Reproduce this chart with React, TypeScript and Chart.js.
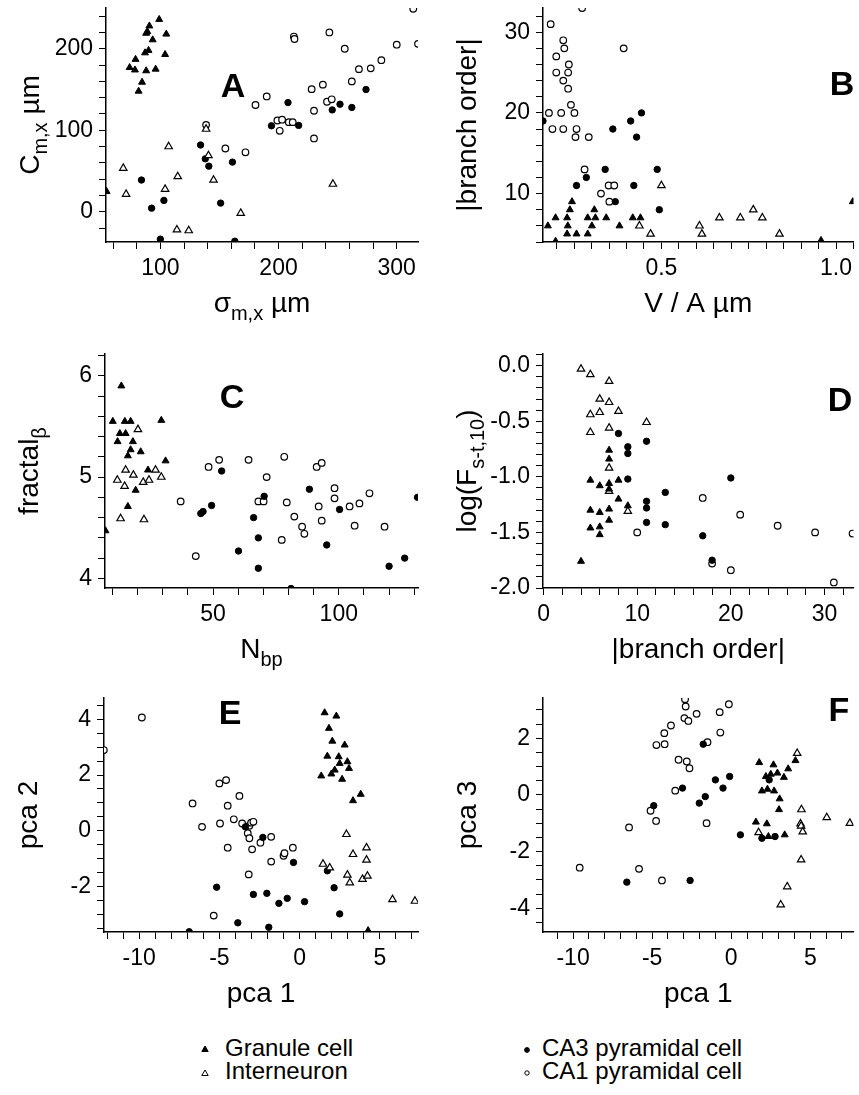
import React, { useEffect, useRef } from "react";
import { Chart, registerables } from "chart.js";

Chart.register(...registerables);

const FONT = '"Liberation Sans", Arial, Helvetica, sans-serif';

type Pt = [number, number];

// ---------- Panel A: sigma_m,x (x) vs C_m,x (y) ----------
const aGranule: Pt[] = [[99,236],[90.7,228],[88,219],[89,221],[105,218],[93.5,211],[90,198],[87,195],[104,193],[79,187],[74,177],[78.5,174],[88,173],[96,175],[84.5,159],[81.6,148],[54.5,25]];
const aInter: Pt[] = [[68.6,53.6],[71,21.7],[107,80],[114.7,43.3],[104,27.8],[114,-22],[124,-23],[138.7,101.5],[140.7,69],[145,39],[168,-1.6],[246,34]];
const aCA3: Pt[] = [[84,39],[92.6,4.5],[103,14],[100,-33.5],[134,82],[138,65],[141,56],[151,10.7],[161,61],[163,-36],[194,105.5],[208,134],[217,106],[245.4,125],[252,132],[262,128],[274,150]];
const aCA1: Pt[] = [[138.7,106.7],[155,77.7],[172,73],[180.5,131],[190,141.5],[199,112],[201,99.4],[203,113],[208.7,110],[212,110],[213,215],[213.5,212],[228,150.5],[230,124],[230,90],[237.5,156],[241,135],[245,138],[243,220],[256,200],[262,160],[268,175],[278,176],[287,186],[300,205],[314,249],[318,206]];

// ---------- Panel B: V/A (x) vs |branch order| (y) ----------
const bGranule: Pt[] = [[0.175,6],[0.197,7],[0.197,4.1],[0.23,7],[0.232,6],[0.23,5],[0.244,9],[0.238,8],[0.257,5],[0.289,7],[0.289,5],[0.301,6],[0.308,8],[0.311,7],[0.342,7],[0.38,6],[0.418,7],[0.44,7],[0.957,4.2],[1.048,9]];
const bInter: Pt[] = [[0.5,11],[0.437,6],[0.469,5],[0.609,6],[0.616,5],[0.666,7],[0.726,7],[0.763,8],[0.789,7],[0.838,5]];
const bCA3: Pt[] = [[0.161,19],[0.257,11],[0.285,12],[0.339,13],[0.361,18],[0.368,9],[0.412,19],[0.443,20],[0.429,17],[0.421,11],[0.488,13],[0.494,8]];
const bCA1: Pt[] = [[0.183,31],[0.273,33],[0.199,27],[0.219,29],[0.222,28],[0.199,25],[0.233,25],[0.235,26],[0.219,24],[0.233,23],[0.241,21],[0.178,20],[0.213,20],[0.251,20],[0.188,18],[0.219,18],[0.257,18],[0.254,17],[0.292,17],[0.392,28],[0.28,13],[0.327,10],[0.349,11],[0.365,11],[0.351,9]];

// ---------- Panel C: N_bp (x) vs fractal_beta (y) ----------
const cGranule: Pt[] = [[13.5,5.9],[10.1,5.55],[14.9,5.55],[17.2,5.55],[29.4,5.56],[12.9,5.43],[15.2,5.43],[12,5.35],[18.1,5.35],[17.2,5.27],[21.2,5.25],[16.1,5.21],[31.1,5.16],[24.1,5.07],[19.2,4.87],[16.1,4.71],[7.2,4.47]];
const cInter: Pt[] = [[20.1,5.47],[15.2,5.07],[11.9,4.97],[18.3,5.02],[14.8,4.91],[22.2,4.95],[24.5,4.97],[27.1,5.07],[29.4,5.0],[13.2,4.59],[22.5,4.58]];
const cCA3: Pt[] = [[46,4.66],[45.1,4.64],[49.4,4.72],[53.4,5.06],[60.1,4.27],[66.1,4.6],[68,4.4],[68,4.1],[70.3,4.81],[81,3.9],[88.3,4.88],[95.2,4.33],[100.3,4.68],[120,4.12],[126.2,4.2],[131.3,4.8]];
const cCA1: Pt[] = [[37.1,4.76],[43.1,4.22],[48.2,5.1],[52.4,5.17],[64.1,5.17],[68,4.76],[70.1,4.76],[71.3,5.0],[78.3,5.2],[79.3,4.75],[77.3,4.38],[82.3,4.61],[85.4,4.51],[86.3,4.44],[91.2,5.1],[93.2,5.14],[92,4.71],[93.2,4.57],[98.3,4.89],[98.3,4.79],[104.3,4.71],[106.3,4.52],[108.2,4.74],[112.2,4.84],[118.2,4.51]];

// ---------- Panel D: |branch order| (x) vs log(F) (y) ----------
const dGranule: Pt[] = [[7,-0.76],[7,-0.84],[5,-1.03],[6,-1.08],[7,-1.06],[8,-1.03],[7,-1.11],[8,-1.2],[9,-1.26],[5,-1.3],[6,-1.32],[7,-1.29],[7,-1.39],[5,-1.46],[6,-1.45],[6,-1.52],[4,-1.76]];
const dInter: Pt[] = [[4,-0.03],[5,-0.08],[7,-0.14],[6,-0.3],[7,-0.33],[5,-0.44],[6,-0.42],[8,-0.41],[5,-0.6],[7,-0.56],[11,-0.51],[7,-0.92],[7,-1.13],[9,-1.31]];
const dCA3: Pt[] = [[8,-0.61],[9,-0.73],[9,-0.79],[11,-0.68],[9,-1.02],[11,-1.22],[11,-1.28],[11,-1.41],[13,-1.14],[13,-1.43],[20,-1.01],[17,-1.53],[18,-1.75]];
const dCA1: Pt[] = [[10,-1.5],[17,-1.19],[18,-1.78],[20,-1.84],[21,-1.34],[25,-1.44],[29,-1.5],[31,-1.95],[33,-1.51]];

// ---------- Panel E: pca 1 (x) vs pca 2 (y) ----------
const eGranule: Pt[] = [[1.56,4.24],[2.29,4.12],[1.83,3.68],[2.04,3.22],[2.81,3.08],[1.73,2.68],[2.44,2.66],[2.98,2.48],[2.5,2.42],[3.08,2.24],[1.98,2.04],[2.19,2.18],[1.35,1.97],[2.65,1.85],[3.33,1.08],[3.81,1.31],[4.27,-3.59]];
const eInter: Pt[] = [[2.92,-0.13],[4.17,-0.61],[3.33,-0.85],[4.17,-1.05],[1.46,-1.2],[1.88,-1.33],[2.98,-1.59],[3.13,-1.87],[3.92,-1.74],[4.23,-1.63],[5.79,-2.47],[7.19,-2.53]];
const eCA3: Pt[] = [[-3.38,0.14],[-2.29,-0.24],[-0.38,-1.14],[-5.17,-2.03],[-2.88,-2.29],[-2.04,-2.25],[-1.29,-2.61],[-0.77,-2.43],[0.31,-2.55],[-3.85,-3.31],[-1.92,-3.47],[-6.88,-3.63],[1.73,-1.44],[2.15,-2.05],[2.5,-2.99]];
const eCA1: Pt[] = [[-9.83,4.07],[-12.2,2.9],[-5,1.7],[-4.58,1.82],[-3.75,1.25],[-6.67,0.98],[-4.48,0.9],[-6.08,0.14],[-4.96,0.26],[-4.1,0.41],[-3.58,0.26],[-3.13,0.18],[-3.02,0.29],[-2.88,0.32],[-3.23,-0.09],[-3.13,-0.27],[-4.48,-0.61],[-2.96,-0.67],[-1.77,-0.22],[-2.44,-0.43],[-1.77,-1.11],[-1,-0.9],[-0.94,-0.81],[-0.42,-0.61],[-3.17,-1.57],[-5.35,-3.05]];

// ---------- Panel F: pca 1 (x) vs pca 3 (y) ----------
const fGranule: Pt[] = [[1.77,1.14],[2.67,1.06],[2.19,0.65],[2.5,0.73],[2.92,0.77],[3.33,0.62],[3.6,0.92],[4.06,1.21],[1.94,0.14],[2.29,0.2],[2.71,0.14],[3.06,-0.14],[3.02,-0.52],[1.56,-0.96],[2.25,-1.02],[2.35,-1.47],[3.38,-1.41]];
const fInter: Pt[] = [[4.17,1.47],[4.44,-0.52],[6.04,-0.8],[4.38,-1.02],[4.42,-1.1],[4.52,-1.3],[1.73,-1.33],[4.42,-2.29],[3.54,-3.24],[3.13,-3.88],[7.5,-1.0]];
const fCA3: Pt[] = [[-1.77,1.79],[-3.08,0.24],[-4.9,-0.38],[-2.02,-0.29],[-1.64,-0.06],[-1,0.53],[-0.52,0.24],[-0.1,0.65],[0.58,-1.41],[-6.6,-3.08],[-2.6,-3.02],[2.4,0.53],[1.94,-1.53],[2.77,-1.47]];
const fCA1: Pt[] = [[-2.92,3.38],[-2.88,3.12],[-2.96,2.71],[-2.71,2.61],[-2.19,2.86],[-0.73,2.92],[-0.15,3.2],[-0.69,2.2],[-3.81,2.45],[-4.23,2.18],[-4.73,1.76],[-4.21,1.79],[-1.5,1.86],[-3.33,1.24],[-2.81,1.18],[-2.64,0.94],[-3.54,0.15],[-5.1,-0.56],[-4.75,-0.92],[-6.46,-1.15],[-1.56,-1.0],[-9.58,-2.57],[-5.83,-2.61],[-4.38,-3.02]];

// ---------- Legend ----------
const legendLabels = ["Granule cell", "Interneuron", "CA3 pyramidal cell", "CA1 pyramidal cell"];

type Part = { t: string; sub?: boolean };

const fmtInt = (v: number) => String(Math.round(v));
const fmt1 = (v: number) => {
  const s = v.toFixed(1);
  return s === "-0.0" ? "0.0" : s;
};

interface Panel {
  letter: string;
  canvas: { x: number; y: number; w: number; h: number };
  plot: { l: number; t: number; r: number; b: number };
  x: [number, number, number, number]; // min, max, step, major
  y: [number, number, number, number];
  xFmt: (v: number) => string;
  yFmt: (v: number) => string;
  xTitle: Part[];
  yTitle: Part[];
  letterPos: [number, number];
  series: Pt[][];
}

const PANELS: Panel[] = [
  {
    letter: "A", canvas: { x: 0, y: 0, w: 430, h: 330 }, plot: { l: 106, t: 8, r: 418, b: 242 },
    x: [54, 318, 20, 100], y: [-37, 250, 20, 100], xFmt: fmtInt, yFmt: fmtInt,
    xTitle: [{ t: "σ" }, { t: "m,x", sub: true }, { t: " µm" }],
    yTitle: [{ t: "C" }, { t: "m,x", sub: true }, { t: " µm" }],
    letterPos: [233, 88], series: [aGranule, aInter, aCA3, aCA1],
  },
  {
    letter: "B", canvas: { x: 430, y: 0, w: 429, h: 330 }, plot: { l: 543, t: 8, r: 857, b: 242 },
    x: [0.161, 1.05, 0.05, 0.5], y: [4, 33, 2, 10], xFmt: fmt1, yFmt: fmtInt,
    xTitle: [{ t: "V / A µm" }], yTitle: [{ t: "|branch order|" }],
    letterPos: [842, 86], series: [bGranule, bInter, bCA3, bCA1],
  },
  {
    letter: "C", canvas: { x: 0, y: 330, w: 430, h: 350 }, plot: { l: 105, t: 354, r: 418, b: 588 },
    x: [7, 131.5, 10, 50], y: [3.905, 6.215, 0.2, 1], xFmt: fmtInt, yFmt: fmtInt,
    xTitle: [{ t: "N" }, { t: "bp", sub: true }],
    yTitle: [{ t: "fractal" }, { t: "β", sub: true }],
    letterPos: [232, 399], series: [cGranule, cInter, cCA3, cCA1],
  },
  {
    letter: "D", canvas: { x: 430, y: 330, w: 429, h: 350 }, plot: { l: 543, t: 354, r: 857, b: 588 },
    x: [-0.06, 33.1, 2, 10], y: [-2, 0.105, 0.1, 0.5], xFmt: fmtInt, yFmt: fmt1,
    xTitle: [{ t: "|branch order|" }],
    yTitle: [{ t: "log(F" }, { t: "s-t,10", sub: true }, { t: ")" }],
    letterPos: [840, 402], series: [dGranule, dInter, dCA3, dCA1],
  },
  {
    letter: "E", canvas: { x: 0, y: 680, w: 430, h: 350 }, plot: { l: 104, t: 698, r: 418, b: 932 },
    x: [-12.19, 7.38, 1, 5], y: [-3.64, 4.77, 0.5, 2], xFmt: fmtInt, yFmt: fmtInt,
    xTitle: [{ t: "pca 1" }], yTitle: [{ t: "pca 2" }],
    letterPos: [230, 715], series: [eGranule, eInter, eCA3, eCA1],
  },
  {
    letter: "F", canvas: { x: 430, y: 680, w: 429, h: 350 }, plot: { l: 543, t: 698, r: 857, b: 932 },
    x: [-11.9, 7.73, 1, 5], y: [-4.84, 3.42, 0.5, 2], xFmt: fmtInt, yFmt: fmtInt,
    xTitle: [{ t: "pca 1" }], yTitle: [{ t: "pca 3" }],
    letterPos: [839, 712], series: [fGranule, fInter, fCA3, fCA1],
  },
];

const isMajor = (v: number, major: number) => Math.abs(v / major - Math.round(v / major)) < 1e-6;

function drawRich(ctx: CanvasRenderingContext2D, parts: Part[], x: number, y: number, size: number, rotate: boolean) {
  const fontFor = (p: Part) => `${p.sub ? Math.round(size * 0.72) : size}px ${FONT}`;
  const widths = parts.map((p) => {
    ctx.font = fontFor(p);
    return ctx.measureText(p.t).width;
  });
  const total = widths.reduce((a, b) => a + b, 0);
  ctx.save();
  ctx.translate(x, y);
  if (rotate) ctx.rotate(-Math.PI / 2);
  ctx.fillStyle = "#000";
  ctx.textAlign = "left";
  ctx.textBaseline = "alphabetic";
  let cx = -total / 2;
  parts.forEach((p, i) => {
    ctx.font = fontFor(p);
    ctx.fillText(p.t, cx, p.sub ? size * 0.28 : 0);
    cx += widths[i];
  });
  ctx.restore();
}

function makeScale(axis: "x" | "y", spec: [number, number, number, number], fmt: (v: number) => string, size: number) {
  const [min, max, step, major] = spec;
  return {
    type: "linear",
    position: axis === "x" ? "bottom" : "left",
    min,
    max,
    afterFit: (s: any) => {
      if (axis === "x") s.height = size;
      else s.width = size;
      s.paddingLeft = 0;
      s.paddingRight = 0;
      s.paddingTop = 0;
      s.paddingBottom = 0;
    },
    ticks: {
      stepSize: step,
      autoSkip: false,
      maxRotation: 0,
      minRotation: 0,
      includeBounds: false,
      padding: 6,
      color: "#000",
      font: { family: FONT, size: 23 },
      callback: (v: any) => (isMajor(Number(v), major) ? fmt(Number(v)) : ""),
    },
    grid: { drawOnChartArea: false, drawTicks: true, tickLength: 7, color: "#000", lineWidth: 1 },
    border: { display: true, color: "#000", width: 1.5 },
    title: { display: false },
  };
}

function buildConfig(p: Panel): any {
  const styles = [
    { pointStyle: "triangle", pointRadius: 4, backgroundColor: "#000", borderColor: "#000", borderWidth: 1 },
    { pointStyle: "triangle", pointRadius: 4.3, backgroundColor: "#fff", borderColor: "#000", borderWidth: 1.2 },
    { pointStyle: "circle", pointRadius: 3.2, backgroundColor: "#000", borderColor: "#000", borderWidth: 1 },
    { pointStyle: "circle", pointRadius: 3.3, backgroundColor: "#fff", borderColor: "#000", borderWidth: 1.2 },
  ];
  const datasets = p.series.map((pts, i) => ({
    label: legendLabels[i],
    data: pts.map(([x, y]) => ({ x, y })),
    showLine: false,
    clip: 0,
    pointHoverRadius: styles[i].pointRadius,
    ...styles[i],
  }));
  const c = p.canvas;
  const decor = {
    id: "decor" + p.letter,
    afterDraw(chart: any) {
      const { ctx, chartArea } = chart;
      const cx = (chartArea.left + chartArea.right) / 2;
      const cy = (chartArea.top + chartArea.bottom) / 2;
      drawRich(ctx, p.xTitle, cx, chartArea.bottom + 70, 28, false);
      drawRich(ctx, p.yTitle, chartArea.left - 67, cy, 28, true);
      ctx.save();
      ctx.font = `bold 34px ${FONT}`;
      ctx.fillStyle = "#000";
      ctx.textAlign = "center";
      ctx.textBaseline = "middle";
      ctx.fillText(p.letter, p.letterPos[0] - c.x, p.letterPos[1] - c.y);
      ctx.restore();
    },
  };
  return {
    type: "scatter",
    data: { datasets },
    options: {
      responsive: false,
      animation: false,
      devicePixelRatio: 1,
      events: [],
      layout: {
        padding: { left: 0, bottom: 0, top: p.plot.t - c.y, right: c.x + c.w - p.plot.r },
      },
      plugins: { legend: { display: false }, tooltip: { enabled: false } },
      scales: {
        x: makeScale("x", p.x, p.xFmt, c.y + c.h - p.plot.b),
        y: makeScale("y", p.y, p.yFmt, p.plot.l - c.x),
      },
    },
    plugins: [decor],
  };
}

const legendText: React.CSSProperties = {
  position: "absolute",
  fontFamily: FONT,
  fontSize: 24,
  lineHeight: "23px",
  color: "#000",
  whiteSpace: "nowrap",
};

function Marker({ kind, x, y }: { kind: number; x: number; y: number }) {
  if (kind < 2) {
    return (
      <svg style={{ position: "absolute", left: x - 4, top: y - 4 }} width={8} height={8}>
        <polygon points="4,1 7.2,6.5 0.8,6.5" fill={kind === 0 ? "#000" : "#fff"} stroke="#000" strokeWidth={1} />
      </svg>
    );
  }
  return (
    <svg style={{ position: "absolute", left: x - 4, top: y - 4 }} width={8} height={8}>
      <circle cx={4} cy={4} r={kind === 2 ? 2.4 : 2.2} fill={kind === 2 ? "#000" : "#fff"} stroke="#000" strokeWidth={1} />
    </svg>
  );
}

export default function App() {
  const refs = useRef<(HTMLCanvasElement | null)[]>([]);
  useEffect(() => {
    document.body.style.margin = "0";
    const charts = PANELS.map((p, i) => new Chart(refs.current[i] as HTMLCanvasElement, buildConfig(p)));
    return () => charts.forEach((ch) => ch.destroy());
  }, []);
  return (
    <div style={{ position: "absolute", left: 0, top: 0, width: 859, height: 1095, background: "#fff" }}>
      {PANELS.map((p, i) => (
        <canvas
          key={p.letter}
          ref={(el) => {
            refs.current[i] = el;
          }}
          width={p.canvas.w}
          height={p.canvas.h}
          style={{ position: "absolute", left: p.canvas.x, top: p.canvas.y, width: p.canvas.w, height: p.canvas.h }}
        />
      ))}
      <Marker kind={0} x={205} y={1049} />
      <Marker kind={1} x={205} y={1073} />
      <Marker kind={2} x={527} y={1050} />
      <Marker kind={3} x={527} y={1073} />
      <div style={{ ...legendText, left: 225, top: 1036 }}>
        {legendLabels[0]}
        <br />
        {legendLabels[1]}
      </div>
      <div style={{ ...legendText, left: 542, top: 1036 }}>
        {legendLabels[2]}
        <br />
        {legendLabels[3]}
      </div>
    </div>
  );
}
